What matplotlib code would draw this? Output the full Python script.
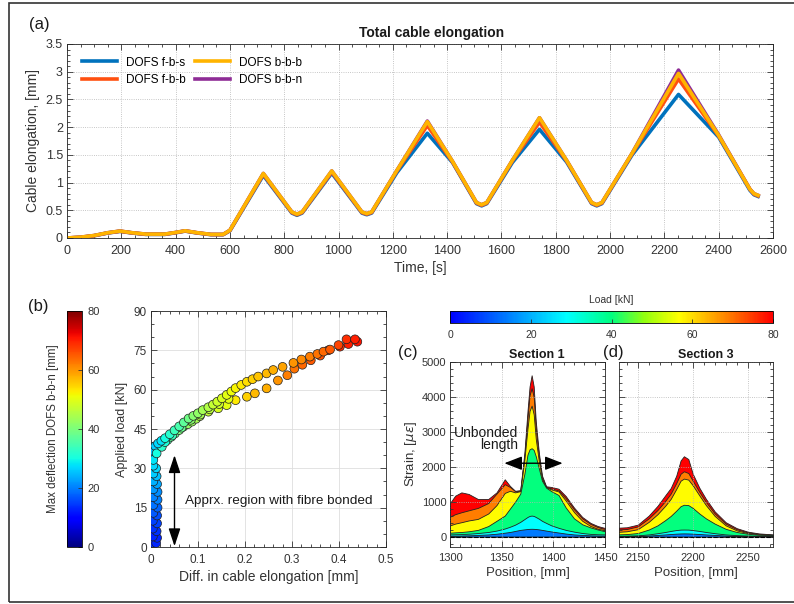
import matplotlib
matplotlib.use("Agg")
import matplotlib.pyplot as plt
from matplotlib.colors import LinearSegmentedColormap, Normalize
from matplotlib.cm import ScalarMappable
from matplotlib.ticker import MultipleLocator, FuncFormatter
from matplotlib.patches import Rectangle

plt.rcParams['font.family'] = ['Liberation Sans', 'DejaVu Sans']
plt.rcParams['mathtext.fontset'] = 'dejavusans'

# ---------------- (a) total cable elongation vs time ----------------
time_s = [0, 50, 100, 150, 195, 240, 290, 360, 400, 435, 480, 530, 575, 600, 723,
          828, 847, 866, 975, 1086, 1104, 1122, 1215, 1327, 1420, 1508, 1527, 1546,
          1640, 1740, 1840, 1932, 1951, 1970, 2080, 2252, 2400, 2515, 2530, 2545]
elong_fbs = [0, 0.01, 0.04, 0.09, 0.12, 0.09, 0.065, 0.065, 0.095, 0.125, 0.09, 0.06,
             0.06, 0.13, 1.13, 0.45, 0.41, 0.45, 1.17, 0.45, 0.42, 0.45, 1.18, 1.89,
             1.36, 0.62, 0.58, 0.62, 1.36, 1.96, 1.37, 0.62, 0.58, 0.62, 1.49, 2.59,
             1.82, 0.86, 0.78, 0.75]
elong_fbb = [0, 0.012, 0.042, 0.092, 0.122, 0.092, 0.067, 0.067, 0.097, 0.127, 0.092,
             0.062, 0.062, 0.135, 1.15, 0.46, 0.42, 0.46, 1.19, 0.46, 0.43, 0.46, 1.21,
             2.03, 1.37, 0.63, 0.59, 0.63, 1.39, 2.09, 1.39, 0.63, 0.59, 0.63, 1.51,
             2.87, 1.84, 0.88, 0.79, 0.76]
elong_bbb = [0, 0.015, 0.045, 0.095, 0.125, 0.095, 0.07, 0.07, 0.10, 0.13, 0.095, 0.065,
             0.065, 0.14, 1.165, 0.47, 0.43, 0.47, 1.21, 0.47, 0.44, 0.47, 1.22, 2.10,
             1.38, 0.64, 0.60, 0.64, 1.40, 2.17, 1.40, 0.64, 0.60, 0.64, 1.52, 2.97,
             1.85, 0.88, 0.80, 0.77]
elong_bbn = [0, 0.015, 0.045, 0.095, 0.125, 0.095, 0.07, 0.07, 0.10, 0.13, 0.095, 0.065,
             0.065, 0.14, 1.165, 0.47, 0.43, 0.47, 1.21, 0.47, 0.44, 0.47, 1.22, 2.11,
             1.38, 0.64, 0.60, 0.64, 1.40, 2.17, 1.40, 0.64, 0.60, 0.64, 1.52, 3.03,
             1.86, 0.88, 0.80, 0.77]

# ---------------- (b) applied load vs diff. in elongation ----------------
col_x = [0.004, 0.011, 0.013, 0.004, 0.012, 0.004, 0.013, 0.004, 0.013, 0.005, 0.014,
         0.005, 0.014, 0.005, 0.014, 0.005, 0.013, 0.005, 0.012, 0.005, 0.011, 0.005,
         0.004, 0.006, 0.009]
col_load = [1.5, 1.5, 3.5, 4, 6, 7, 9, 10, 12, 13, 15, 16, 18, 19, 21, 22, 24, 25, 27,
            28, 30, 31, 34, 36.5, 38.5]
col_defl = [13, 13, 13, 13, 14, 14, 15, 15, 16, 17, 18, 19, 20, 20, 21, 22, 23, 24, 25,
            26, 27, 27, 24, 25, 26]
up_x = [0.015, 0.022, 0.03, 0.04, 0.05, 0.06, 0.07, 0.08, 0.09, 0.1, 0.11, 0.122, 0.132,
        0.141, 0.151, 0.161, 0.171, 0.18, 0.192, 0.204, 0.216, 0.228, 0.246, 0.26, 0.28,
        0.303, 0.32, 0.338, 0.354, 0.367, 0.381, 0.399, 0.416, 0.434]
up_load = [39.5, 40.5, 41.5, 43, 44.5, 46, 47.5, 49, 50, 51, 52.2, 53.3, 54.3, 55.4, 56.7,
           58, 59.3, 60.6, 61.8, 63, 64, 65, 66.2, 67.5, 68.7, 70.2, 71.5, 72.6, 73.6,
           74.5, 75.3, 77, 79.2, 79.2]
up_defl = [27, 28, 30, 32, 34, 35, 37, 39, 41, 42, 44, 45, 47, 48, 49, 50, 51, 52, 53, 54,
           55, 56, 57, 58, 59, 60, 61, 62, 63, 64, 65, 67, 69, 70]
mid_x = [0.03, 0.045, 0.065, 0.085, 0.105, 0.125, 0.145, 0.165]
mid_load = [40, 42.5, 45.5, 48.5, 50.5, 52.5, 54.5, 56.5]
mid_defl = [31, 34, 38, 41, 44, 46, 48, 50]
low_x = [0.005, 0.012, 0.023, 0.035, 0.043, 0.051, 0.06, 0.069, 0.078, 0.087, 0.096,
         0.104, 0.122, 0.143, 0.161, 0.18, 0.204, 0.221, 0.246, 0.27, 0.29, 0.305, 0.322,
         0.34, 0.36, 0.377, 0.402, 0.42, 0.439]
low_load = [33.2, 35.7, 38.2, 40.8, 42, 43.3, 44.6, 45.9, 46.8, 47.8, 48.9, 49.9, 51.6,
            52.9, 54.1, 56, 57.3, 58.6, 60.5, 63.5, 65.5, 68, 69.5, 71.2, 73, 75, 76.4,
            77.4, 78.3]
low_defl = [28, 30, 32, 35, 37, 38, 40, 41, 42, 43, 44, 45, 47, 49, 50, 53, 55, 57, 58,
            60, 62, 63, 64, 65, 66, 67, 69, 70, 71]

# ---------------- (c), (d) strain profiles at increasing loads ----------------
loads_kn = [14, 29, 40, 57, 69, 80]

pos_c = [1300, 1305, 1311, 1318, 1327, 1337, 1345, 1353, 1358, 1363, 1368, 1372, 1375,
         1377, 1379, 1381, 1383, 1386, 1389, 1393, 1398, 1405, 1412, 1420, 1428, 1436,
         1443, 1450]
strain_c_14 = [25, 27, 30, 35, 45, 60, 80, 110, 130, 160, 190, 205, 215, 220, 222, 220,
               215, 205, 190, 170, 145, 115, 85, 60, 45, 35, 30, 28]
strain_c_29 = [60, 65, 70, 80, 100, 130, 170, 230, 280, 340, 420, 500, 560, 590, 600, 590,
               560, 510, 450, 390, 320, 250, 190, 140, 100, 75, 65, 60]
strain_c_40 = [110, 120, 130, 150, 190, 300, 450, 600, 800, 1000, 1230, 1800, 2350, 2500,
               2530, 2480, 2300, 1950, 1600, 1400, 1300, 1190, 830, 520, 350, 260, 200, 150]
strain_c_57 = [320, 370, 410, 460, 505, 660, 900, 1250, 1310, 1265, 1300, 2200, 3100, 3600,
               3750, 3500, 2800, 2150, 1650, 1410, 1350, 1290, 1030, 700, 450, 300, 220, 185]
strain_c_69 = [570, 640, 695, 750, 820, 960, 1230, 1500, 1420, 1300, 1310, 2300, 3400, 4050,
               4250, 4000, 3100, 2300, 1700, 1420, 1380, 1320, 1100, 780, 520, 360, 270, 215]
strain_c_80 = [960, 1170, 1265, 1220, 1075, 1075, 1265, 1640, 1450, 1310, 1330, 2400, 3600,
               4300, 4620, 4300, 3300, 2400, 1750, 1440, 1420, 1370, 1160, 830, 560, 390,
               300, 245]

pos_d = [2130, 2140, 2150, 2160, 2168, 2175, 2180, 2185, 2189, 2192, 2196, 2200, 2206,
         2212, 2220, 2230, 2240, 2250, 2260, 2275]
strain_d_14 = [10, 12, 18, 30, 45, 60, 72, 82, 88, 90, 88, 82, 72, 60, 45, 30, 20, 14, 11, 10]
strain_d_29 = [20, 25, 35, 60, 95, 130, 160, 185, 198, 200, 198, 185, 160, 130, 95, 60, 40,
               28, 22, 20]
strain_d_40 = [60, 70, 100, 200, 320, 470, 590, 740, 870, 910, 900, 820, 660, 520, 370, 220,
               130, 80, 50, 40]
strain_d_57 = [130, 150, 210, 420, 640, 880, 1080, 1360, 1600, 1660, 1630, 1470, 1180, 900,
               590, 320, 175, 100, 62, 45]
strain_d_69 = [200, 215, 290, 520, 760, 1020, 1230, 1530, 1800, 1870, 1820, 1600, 1280, 990,
               660, 370, 210, 120, 75, 50]
strain_d_80 = [250, 265, 340, 600, 880, 1180, 1390, 1740, 2180, 2300, 2220, 1800, 1400, 1080,
               720, 410, 240, 140, 90, 55]

load_cmap = LinearSegmentedColormap.from_list('load', [
    (0.0, '#0000ff'), (0.36, '#00ffff'), (0.5, '#00ff80'), (0.6, '#90ff10'),
    (0.71, '#ffff00'), (0.86, '#ff8000'), (1.0, '#ff0000')])

W, H = 794, 604
fig = plt.figure(figsize=(W / 100, H / 100), dpi=100)
TXT = '#333333'


def add_ax(l, t, r, b):
    return fig.add_axes([l / W, 1 - b / H, (r - l) / W, (b - t) / H])


def style(ax, size, pad=3):
    ax.tick_params(which='both', direction='in', top=True, right=True, colors=TXT,
                   labelsize=size, width=0.6, pad=pad)
    ax.tick_params(which='major', length=4)
    ax.tick_params(which='minor', length=2)
    for s in ax.spines.values():
        s.set_color('#262626')
        s.set_linewidth(0.6)


gfmt = FuncFormatter(lambda v, p: f'{v:g}')

# ---- (a)
ax_a = add_ax(67, 44, 773, 238)
l1, = ax_a.plot(time_s, elong_fbs, color='#0072BD', lw=2.6, label='DOFS f-b-s')
l2, = ax_a.plot(time_s, elong_fbb, color='#FF5010', lw=2.6, label='DOFS f-b-b')
l4, = ax_a.plot(time_s, elong_bbn, color='#8E2C96', lw=2.6, label='DOFS b-b-n')
l3, = ax_a.plot(time_s, elong_bbb, color='#FFB400', lw=2.6, label='DOFS b-b-b')
ax_a.set_xlim(0, 2600)
ax_a.set_ylim(0, 3.5)
ax_a.xaxis.set_major_locator(MultipleLocator(200))
ax_a.xaxis.set_minor_locator(MultipleLocator(50))
ax_a.yaxis.set_major_locator(MultipleLocator(0.5))
ax_a.yaxis.set_minor_locator(MultipleLocator(0.1))
ax_a.yaxis.set_major_formatter(gfmt)
ax_a.grid(True, ls=':', color='#b4b4b4', lw=0.6)
style(ax_a, 9)
ax_a.tick_params(axis='x', pad=5)
ax_a.set_xlabel('Time, [s]', fontsize=10, color=TXT, labelpad=3)
ax_a.set_ylabel('Cable elongation, [mm]', fontsize=10, color=TXT, labelpad=4)
ax_a.text(0.516, 1.034, 'Total cable elongation', transform=ax_a.transAxes,
          ha='center', va='baseline', fontsize=10, fontweight='bold', color='#1a1a1a')
ax_a.legend(handles=[l1, l2, l3, l4], ncol=2, loc='upper left', bbox_to_anchor=(0.021, 0.935),
            frameon=False, fontsize=8.5, handlelength=3.0, handletextpad=0.75,
            columnspacing=0.75, labelspacing=0.45, borderpad=0, borderaxespad=0)

# ---- (b)
cax_b = add_ax(67, 311, 82, 547)
cb_b = fig.colorbar(ScalarMappable(Normalize(0, 80), 'jet'), cax=cax_b)
cb_b.set_ticks([0, 20, 40, 60, 80])
cb_b.outline.set_linewidth(0.6)
cb_b.ax.tick_params(direction='in', length=3, labelsize=8, colors=TXT, pad=4, width=0.6)
fig.text(53 / W, 1 - 429 / H, 'Max deflection DOFS b-b-n [mm]', rotation=90,
         ha='center', va='center', fontsize=8.3, color=TXT)

ax_b = add_ax(151, 311, 386, 547)
ax_b.set_axisbelow(True)
ax_b.grid(True, color='#dedede', lw=0.6)
for xs, ys, ds in [(col_x, col_load, col_defl), (low_x, low_load, low_defl),
                   (mid_x, mid_load, mid_defl), (up_x, up_load, up_defl)]:
    ax_b.scatter(xs, ys, c=ds, cmap='jet', vmin=0, vmax=80, s=40, edgecolors='#202020',
                 linewidths=0.5, zorder=3)
ax_b.set_xlim(0, 0.5)
ax_b.set_ylim(0, 90)
ax_b.xaxis.set_major_locator(MultipleLocator(0.1))
ax_b.xaxis.set_minor_locator(MultipleLocator(0.02))
ax_b.yaxis.set_major_locator(MultipleLocator(15))
ax_b.yaxis.set_minor_locator(MultipleLocator(5))
ax_b.xaxis.set_major_formatter(gfmt)
style(ax_b, 8.5)
ax_b.tick_params(axis='x', pad=5)
ax_b.set_xlabel('Diff. in cable elongation [mm]', fontsize=10, color=TXT, labelpad=3)
ax_b.set_ylabel('Applied load [kN]', fontsize=9, color=TXT, labelpad=4)
ax_b.annotate('', xy=(0.05, 0.3), xytext=(0.05, 35),
              arrowprops=dict(arrowstyle='<|-|>,head_length=0.9,head_width=0.3', color='k',
                              lw=1, mutation_scale=12, shrinkA=0, shrinkB=0))
ax_b.text(0.072, 17.5, 'Apprx. region with fibre bonded', fontsize=9.7, color='#1a1a1a',
          ha='left', va='center')

# ---- load colorbar
cax_l = add_ax(450, 311, 773, 323)
cb_l = fig.colorbar(ScalarMappable(Normalize(0, 80), load_cmap), cax=cax_l,
                    orientation='horizontal')
cb_l.set_ticks([0, 20, 40, 60, 80])
cb_l.outline.set_linewidth(0.6)
cb_l.ax.tick_params(direction='in', length=3, labelsize=7.5, colors=TXT, pad=5, width=0.6)
fig.text(611 / W, 1 - 300 / H, 'Load [kN]', ha='center', va='center', fontsize=7.5, color=TXT)

# ---- (c), (d)
ax_c = add_ax(450, 362, 605, 547)
ax_d = add_ax(619, 362, 773, 547)
layers_c = [strain_c_14, strain_c_29, strain_c_40, strain_c_57, strain_c_69, strain_c_80]
layers_d = [strain_d_14, strain_d_29, strain_d_40, strain_d_57, strain_d_69, strain_d_80]
for ax, pos, layers in [(ax_c, pos_c, layers_c), (ax_d, pos_d, layers_d)]:
    for load, strain in reversed(list(zip(loads_kn, layers))):
        ax.fill_between(pos, 0, strain, color=load_cmap(load / 80), edgecolor='#222222',
                        lw=0.6)
    ax.axhline(0, color='k', ls='--', lw=0.8, zorder=5)
    ax.set_ylim(-300, 5000)
    ax.yaxis.set_major_locator(MultipleLocator(1000))
    ax.yaxis.set_minor_locator(MultipleLocator(200))
    ax.xaxis.set_major_locator(MultipleLocator(50))
    ax.xaxis.set_minor_locator(MultipleLocator(10))
    ax.grid(True, ls=':', color='#b4b4b4', lw=0.6)
    style(ax, 8, pad=2.5)
    ax.tick_params(axis='x', pad=4)
    ax.set_xlabel('Position, [mm]', fontsize=9.5, color=TXT, labelpad=3)

ax_c.set_xlim(1300, 1450)
ax_d.set_xlim(2133, 2273)
ax_d.tick_params(axis='y', labelleft=False)
ax_c.set_ylabel(r'Strain, [$\mu\varepsilon$]', fontsize=9.5, color=TXT, labelpad=2)
ax_c.text(0.561, 1.024, 'Section 1', transform=ax_c.transAxes, ha='center', va='baseline',
          fontsize=9, fontweight='bold', color='#1a1a1a')
ax_d.text(0.565, 1.024, 'Section 3', transform=ax_d.transAxes, ha='center', va='baseline',
          fontsize=9, fontweight='bold', color='#1a1a1a')
ax_c.annotate('', xy=(1352.6, 2100), xytext=(1409, 2100),
              arrowprops=dict(arrowstyle='<|-|>,head_length=0.9,head_width=0.35', color='k',
                              lw=1, mutation_scale=12, shrinkA=0, shrinkB=0))
ax_c.text(1366, 2800, 'Unbonded\nlength', ha='right', va='center', multialignment='right',
          fontsize=10, linespacing=0.85, color='#1a1a1a')

# panel letters
for label, x, y in [('(a)', 39, 25), ('(b)', 38, 307), ('(c)', 408, 352), ('(d)', 613, 352)]:
    fig.text(x / W, 1 - y / H, label, ha='center', va='center', fontsize=12, color='#1a1a1a')

fig.add_artist(Rectangle((9 / W, 2 / H), 1.0, 1 - 5 / H, transform=fig.transFigure,
                         fill=False, lw=1.2, ec='#333333'))

fig.savefig('out.png', dpi=100)
